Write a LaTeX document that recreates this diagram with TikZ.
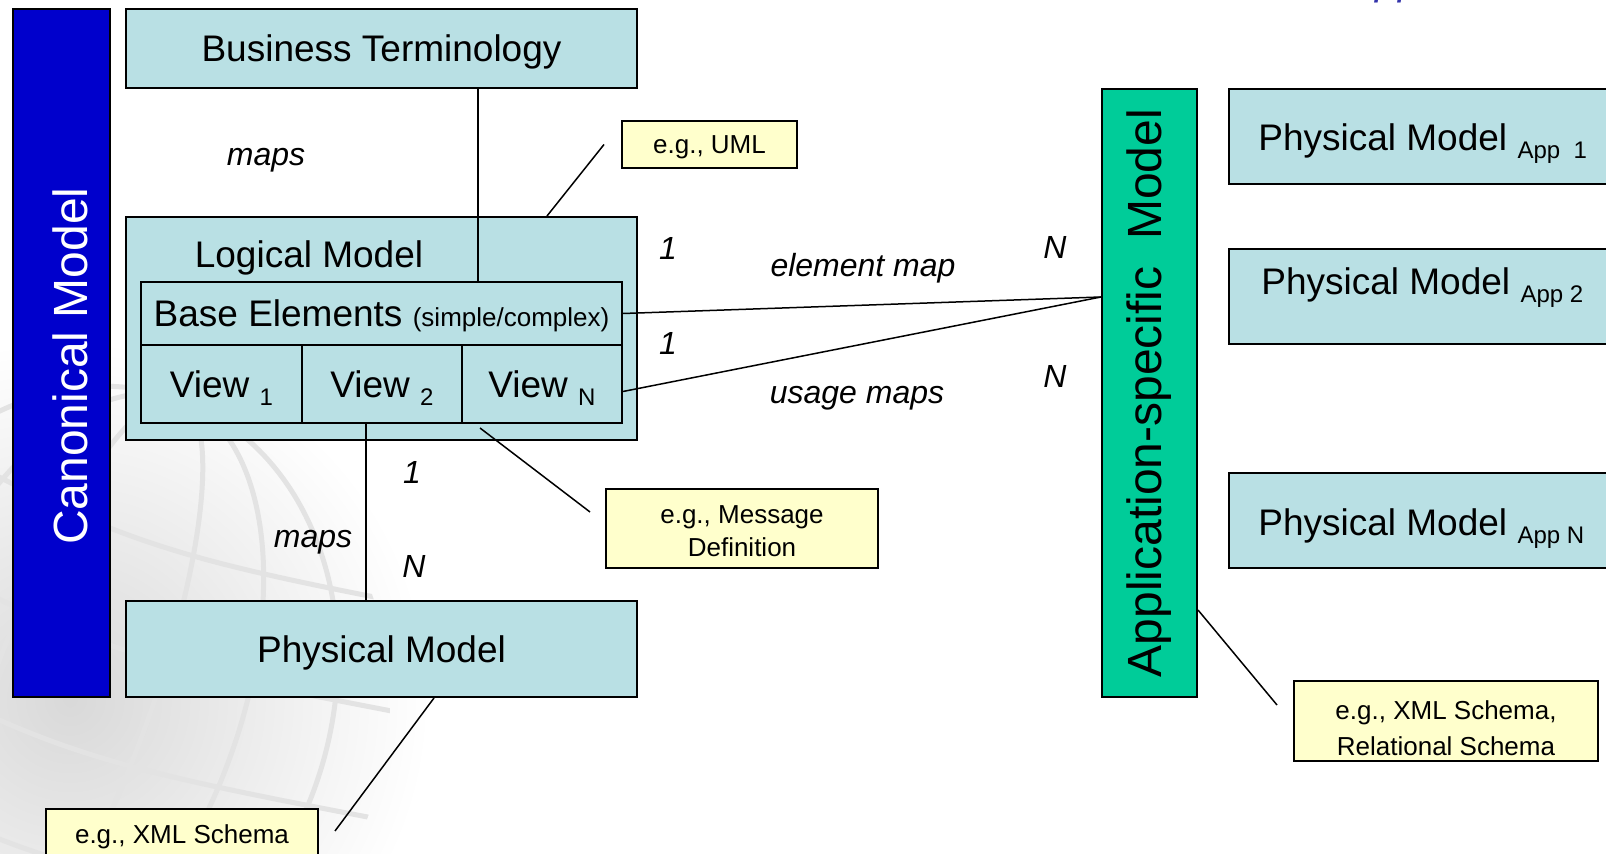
\documentclass[tikz,border=0pt]{standalone}
\usepackage{fontspec}
\setmainfont{Liberation Sans}

\definecolor{boxteal}{RGB}{185,224,228}
\definecolor{canonblue}{RGB}{0,0,204}
\definecolor{appgreen}{RGB}{0,204,153}
\definecolor{noteyellow}{RGB}{255,255,204}
\definecolor{titleblue}{RGB}{51,51,170}
\newcommand{\lowsub}[1]{{\fontsize{12}{12}\selectfont\raisebox{-4pt}[0pt][0pt]{#1}}}

\begin{document}
\begin{tikzpicture}[x=0.5pt,y=-0.5pt,
  modelbox/.style={draw, line width=1pt, fill=boxteal, inner sep=0pt, text height=13.25pt, text depth=0pt, font=\fontsize{18.5}{22}\selectfont},
  notebox/.style={draw, line width=1pt, fill=noteyellow, align=center, inner sep=0pt, text height=9.3pt, text depth=0pt, font=\fontsize{13}{16.5}\selectfont},
  twoline/.style={text height=27.8pt, text depth=0pt},
  sidebar/.style={draw, line width=1pt, inner sep=0pt},
  bartext/.style={rotate=90, inner sep=0pt, font=\fontsize{24}{28}\selectfont},
  maplabel/.style={inner sep=0pt, font=\fontsize{16}{19}\selectfont\itshape},
  link/.style={line width=0.75pt}]
  \clip (0,0) rectangle (1606,854);

  % faded globe in the background
  \shade[inner color=gray!30, outer color=white] (70,700) circle [radius=360];
  \begin{scope}[gray!22, line width=2.5pt, rotate around={-20:(70,700)}]
    \clip (70,700) circle [radius=320];
    \foreach \r in {80,170,260}
      \draw (70,700) ellipse [x radius=\r, y radius=320];
    \foreach \dy in {-220,-110,0,110,220}
      \draw (-300,700+\dy) .. controls (70,760+\dy) .. (440,700+\dy);
  \end{scope}

  % cut-off title text at the top
  \node[anchor=base west, inner sep=0pt, text=titleblue, font=\fontsize{20.5}{24}\selectfont\itshape] (titlefrag) at (1375,-5.5) {pp};

  % side bars
  \node[sidebar, fill=canonblue, minimum width=48.5pt, minimum height=344pt] (canon) at (61.5,353) {};
  \node[bartext, text=white, text height=17.2pt, text depth=0pt] (canontxt) at ([xshift=4.5pt,yshift=-6.5pt]canon.center) {Canonical Model};
  \node[sidebar, fill=appgreen, minimum width=47.5pt, minimum height=304pt] (appspec) at (1149.5,393) {};
  \node[bartext] (appspectxt) at (appspec.center) {Application-specific\ \ Model};

  % canonical model boxes
  \node[modelbox, minimum width=255.5pt, minimum height=39.5pt] (bizterm) at (381.5,48.5) {Business Terminology};
  \node[modelbox, minimum width=255.5pt, minimum height=111.5pt] (logical) at (381.5,328.5) {};
  \node[inner sep=0pt, text height=13.25pt, text depth=0pt, font=\fontsize{18.5}{22}\selectfont] (logtitle) at (309,254) {Logical Model};
  \node[modelbox, minimum width=240.5pt, minimum height=31.5pt] (base) at (381.5,313.5) {Base Elements {\fontsize{13}{16}\selectfont(simple/complex)}};
  \node[modelbox, minimum width=80.5pt, minimum height=39pt] (view1) at (221.5,384) {View \lowsub{1}};
  \node[modelbox, minimum width=80pt, minimum height=39pt] (view2) at (382,384) {View \lowsub{2}};
  \node[modelbox, minimum width=80pt, minimum height=39pt] (viewN) at (542,384) {View \lowsub{N}};
  \node[modelbox, minimum width=255.5pt, minimum height=48pt] (physical) at (381.5,649) {Physical Model};

  % application physical models
  \node[modelbox, minimum width=205.5pt, minimum height=47.5pt] (phys1) at (1434.5,136.5) {};
  \node[modelbox, minimum width=205.5pt, minimum height=47.5pt] (phys2) at (1434.5,296.5) {};
  \node[modelbox, minimum width=205.5pt, minimum height=47.5pt] (physN) at (1434.5,520.5) {};
  \node[anchor=base west, inner sep=0pt, font=\fontsize{18.5}{22}\selectfont] (phys1txt) at ([xshift=15pt,yshift=-7pt]phys1.west) {Physical Model \lowsub{App\ \ 1}};
  \node[anchor=base west, inner sep=0pt, font=\fontsize{18.5}{22}\selectfont] (phys2txt) at ([xshift=16.5pt,yshift=1pt]phys2.west) {Physical Model \lowsub{App 2}};
  \node[anchor=base west, inner sep=0pt, font=\fontsize{18.5}{22}\selectfont] (physNtxt) at ([xshift=15pt,yshift=-7.5pt]physN.west) {Physical Model \lowsub{App N}};

  % notes
  \node[notebox, minimum width=87.5pt, minimum height=23.5pt] (uml) at (709.5,144.5) {e.g., UML};
  \node[notebox, twoline, minimum width=136pt, minimum height=39.5pt] (msgdef) at (742,528.5) {e.g., Message\\Definition};
  \node[notebox, twoline, minimum width=136pt, minimum height=40pt] (xmlnote) at (182,849) {e.g., XML Schema\\\phantom{e.g., XML Schema}};
  \node[notebox, twoline, minimum width=152pt, minimum height=40pt, text height=34.3pt, font=\fontsize{13}{18}\selectfont] (relnote) at (1446,721) {e.g., XML Schema,\\Relational Schema};

  % labels
  \node[maplabel] (mapstop) at (266,160) {maps};
  \node[maplabel] (elemone) at (668,248) {1};
  \node[maplabel] (elemmap) at (863,268) {element map};
  \node[maplabel] (elemN) at (1055,247) {N};
  \node[maplabel] (useone) at (668,343) {1};
  \node[maplabel] (usemaps) at (857,398) {usage maps};
  \node[maplabel] (useN) at (1055,376) {N};
  \node[maplabel] (physone) at (412,472) {1};
  \node[maplabel] (mapsbot) at (313,542) {maps};
  \node[maplabel] (physNlbl) at (414,566) {N};

  % connectors
  \coordinate (meet) at ([yshift=48pt]appspec.west);
  \draw[link] ([xshift=48.25pt]bizterm.south) -- ([xshift=48.25pt]bizterm.south |- base.north);
  \draw[link] (base.east) -- (meet);
  \draw[link] ([yshift=-3.75pt]viewN.east) -- (meet);
  \draw[link] ([xshift=-8pt]view2.south) -- ([xshift=-8pt]view2.south |- physical.north);
  \draw[link] ([xshift=82.75pt]logical.north) -- ([xshift=-8.5pt]uml.west);
  \draw[link] ([xshift=9.5pt,yshift=-2pt]viewN.south west) -- ([xshift=-7.5pt,yshift=8.25pt]msgdef.west);
  \draw[link] ([xshift=26.25pt]physical.south) -- ([xshift=8pt,yshift=-11.5pt]xmlnote.north east);
  \draw[link] ([yshift=44pt]appspec.south east) -- ([xshift=-8pt,yshift=8pt]relnote.west);
\end{tikzpicture}
\end{document}
